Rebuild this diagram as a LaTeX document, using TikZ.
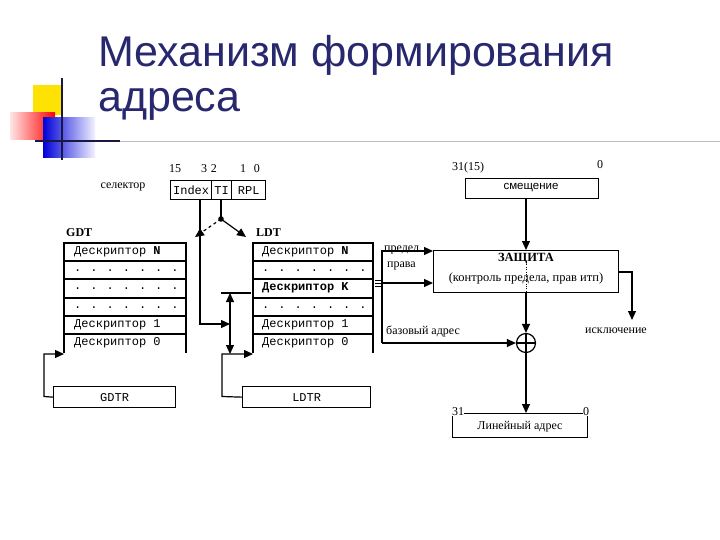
\documentclass[tikz,border=0pt]{standalone}
\usepackage{fontspec}
\setmainfont{Liberation Serif}
\newfontfamily\titlefont{Liberation Sans}
\newfontfamily\monof{Liberation Mono}
\usetikzlibrary{arrows.meta}
\definecolor{navy}{RGB}{40,40,110}
\tikzset{
 ar/.style={-{Triangle[length=9pt,width=8pt]}},
 box/.style={draw,line width=1.3pt,inner sep=0pt,anchor=north west},
 lab/.style={font=\fontsize{12}{14}\selectfont,inner sep=0pt},
 mono/.style={font=\monof\fontsize{12}{14}\selectfont,inner sep=0pt,anchor=west},
 ln/.style={line width=1.2pt}
}
\newcommand\dotrow{.\hspace{9pt}.\hspace{9pt}.\hspace{9pt}.\hspace{9pt}.\hspace{9pt}.\hspace{9pt}.}
\begin{document}
\begin{tikzpicture}[x=1pt,y=-1pt]
\useasboundingbox (0,0) rectangle (720,540);
% logo
\fill[yellow!85!orange] (33,85) rectangle (62,115);
\shade[left color=red!10,right color=red] (10,113) rectangle (55,140);
\shade[left color=blue!85!black,right color=blue!5] (43,118) rectangle (95,158);
\draw[line width=1.8pt,navy!60!black] (62,78) -- (62,160);
\draw[line width=1.8pt,navy!60!black] (35,141) -- (120,141);
\draw[line width=0.5pt,gray!50] (120,141) -- (720,141);
\node[anchor=west,inner sep=0pt,text=navy,font=\titlefont\fontsize{43}{48}\selectfont] (t1) at (98,55) {Механизм формирования};
\node[anchor=west,inner sep=0pt,text=navy,font=\titlefont\fontsize{43}{48}\selectfont] (t2) at (98,104) {адреса};
% selector
\node[lab] (b15) at (175,169) {15};
\node[lab] (b32) at (209,169) {3\,\,2};
\node[lab] (b10) at (250,169) {1\,\,\,\,0};
\node[lab] (sel) at (123,187) {селектор};
\node[box,minimum width=41pt,minimum height=19pt] (idx) at (170,180) {};
\node[box,minimum width=20pt,minimum height=19pt] (ti) at (211,180) {};
\node[box,minimum width=34pt,minimum height=19pt] (rpl) at (231,180) {};
\node[mono,anchor=center] at (idx.center) {Index};
\node[mono,anchor=center] at (ti.center) {TI};
\node[mono,anchor=center] at (rpl.center) {RPL};
% tables
\node[lab,font=\bfseries\fontsize{12}{14}\selectfont,anchor=west] (gdt) at (66,233) {GDT};
\node[lab,font=\bfseries\fontsize{12}{14}\selectfont,anchor=west] (ldt) at (256,233) {LDT};
\foreach \xl/\xr/\n in {64/186/g,253/373/l}{
  \draw[ln] (\xl,353) -- (\xl,243) -- (\xr,243) -- (\xr,353);
  \foreach \y in {261,279,298,316,334}{\draw[ln] (\xl,\y) -- (\xr,\y);}
}
\node[mono] (gN) at (74,252) {Дескриптор \textbf{N}};
\node[mono] (gd1) at (74,271) {\dotrow};
\node[mono] (gd2) at (74,289) {\dotrow};
\node[mono] (gd3) at (74,308) {\dotrow};
\node[mono] (g1) at (74,325) {Дескриптор 1};
\node[mono] (g0) at (74,343) {Дескриптор 0};
\node[mono] (lN) at (262,252) {Дескриптор \textbf{N}};
\node[mono] (ld1) at (262,271) {\dotrow};
\node[mono] (lK) at (262,288) {\textbf{Дескриптор K}};
\node[mono] (ld3) at (262,308) {\dotrow};
\node[mono] (l1) at (262,325) {Дескриптор 1};
\node[mono] (l0) at (262,343) {Дескриптор 0};
% registers
\node[box,minimum width=122pt,minimum height=21pt] (gdtr) at (53,386) {};
\node[mono,anchor=center] at (gdtr.center) {GDTR};
\node[box,minimum width=128pt,minimum height=21pt] (ldtr) at (242,386) {};
\node[mono,anchor=center] at (ldtr.center) {LDTR};
\coordinate (g0in) at (64,354);
\coordinate (l0in) at (253,354);
\draw[ln,ar] (gdtr.west) -- (44,396.5) -- (44,354) -- (g0in);
\draw[ln,ar] (ldtr.west) -- (222,396.5) -- (222,354) -- (l0in);
\coordinate (kt) at (230,293);
\coordinate (kb) at (230,354);
\draw[ln] (221,293) -- (251,293);
\draw[ln,{Triangle[length=9pt,width=8pt]}-{Triangle[length=9pt,width=8pt]}] (kt) -- (kb);
\coordinate (ip) at (230,324);
\draw[ln,ar] (200,199) -- (200,324) -- (ip);
% TI
\coordinate (dot) at (221,219);
\coordinate (ga) at (195,237);
\coordinate (la) at (246,237);
\draw[ln] (221,199) -- (dot);
\fill (dot) circle (2.8pt);
\draw[ln,ar] (dot) -- (la);
\draw[ln,dashed,ar] (dot) -- (ga);
% right part
\node[lab] (n31) at (468,168) {31(15)};
\node[lab] (n0) at (600,165) {0};
\node[box,minimum width=133pt,minimum height=20pt] (sm) at (465,178) {};
\node[lab,font=\titlefont\fontsize{11.5}{13}\selectfont] at (531,188) {смещение};
\node[box,minimum width=185pt,minimum height=42pt] (zas) at (433,250) {};
\node[lab,font=\bfseries\fontsize{12.5}{14}\selectfont] (zt) at (526,259) {ЗАЩИТА};
\node[lab,font=\fontsize{12.5}{14}\selectfont] (zt2) at (526,278) {(контроль предела, прав итп)};
\draw[dotted] (526,262) -- (526,292);
\draw[ln,ar] (526,198) -- (526,250);
\node[draw,circle,line width=1.2pt,minimum size=19pt,inner sep=0pt] (plus) at (526,343) {};
\draw[ln] (plus.north) -- (plus.south) (plus.west) -- (plus.east);
\draw[ln,ar] (526,292) -- (plus.north);
\node[box,minimum width=135pt,minimum height=24pt] (lin) at (452,413) {};
\node[lab] at (520,427) {Линейный адрес};
\node[lab,fill=white] (l31) at (458,412) {31};
\node[lab,fill=white] (l0b) at (586,412) {0};
\draw[ln,ar] (plus.south) -- (526,413);
% bus
\draw[ln] (382,250) -- (382,343);
\draw[ln,ar] (382,251) -- (433,251);
\draw[ln,ar] (382,283) -- (433,283);
\draw[ln,ar] (382,343) -- (plus.west);
\foreach \d in {-3,0,3}{\draw[line width=1pt] (375,283+\d) -- (382,283+\d);}
\node[lab,anchor=west] (pr) at (384,250) {предел};
\node[lab,anchor=west] (pv) at (387,266) {права};
\node[lab,anchor=west] (ba) at (386,331) {базовый адрес};
\draw[ln,ar] (618,272) -- (632,272) -- (632,320);
\node[lab] (exc) at (616,331) {исключение};
\end{tikzpicture}
\end{document}
